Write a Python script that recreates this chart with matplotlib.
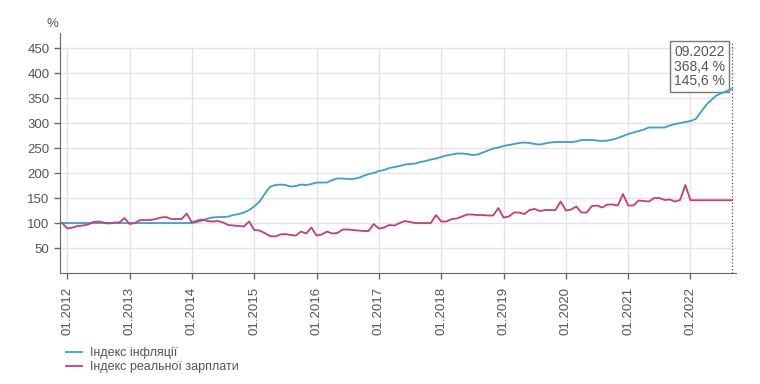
import matplotlib.pyplot as plt
import numpy as np

plt.rcParams['font.family'] = ['Liberation Sans', 'DejaVu Sans']

# місяці: від 12.2011 до 09.2022
start_year = 2011
start_month = 12

inflation = [100,
             100, 100, 100, 100, 100, 100, 100, 100, 100, 100, 100, 100,
             100, 100, 100, 100, 100, 100, 100, 100, 100, 100, 100, 100,
             100, 102, 105, 109, 111, 112, 112, 113, 116, 118, 121, 126,
             133, 143, 158, 172, 176, 177, 176, 173, 174, 177, 176, 178,
             181, 181, 181, 186, 189, 189, 188, 188, 190, 194, 198, 200,
             204, 206, 210, 212, 214, 217, 218, 219, 222, 224, 227, 229,
             232, 235, 237, 239, 239, 238, 236, 237, 241, 245, 249, 251,
             254, 256, 258, 260, 261, 260, 258, 257, 259, 261, 262, 262,
             262, 262, 263, 266, 266, 266, 265, 264, 265, 267, 270, 274,
             278, 281, 284, 287, 291, 291, 291, 291, 295, 298, 300, 302,
             304, 308, 322, 336, 346, 355, 360, 364, 368.4]

real_wage = [100,
             89, 91, 94, 95, 97, 102, 103, 101, 99, 101, 101, 110,
             98, 100, 106, 106, 106, 108, 111, 112, 108, 108, 108, 119,
             101, 105, 107, 104, 103, 104, 101, 96, 95, 94, 93, 103,
             86, 85, 80, 74, 73, 77, 78, 76, 75, 83, 79, 91,
             75, 77, 83, 79, 80, 87, 87, 86, 85, 84, 84, 98,
             89, 91, 96, 95, 100, 104, 102, 100, 100, 100, 100, 116,
             103, 103, 108, 109, 113, 117, 117, 116, 116, 115, 115, 130,
             111, 113, 121, 121, 118, 126, 128, 124, 126, 126, 126, 143,
             125, 127, 133, 121, 121, 134, 135, 131, 137, 137, 135, 158,
             135, 135, 145, 144, 143, 150, 150, 146, 147, 143, 146, 176,
             145.6, 145.6, 145.6, 145.6, 145.6, 145.6, 145.6, 145.6, 145.6]

labels = ['Індекс інфляції', 'Індекс реальної зарплати']
colors = ['#3d9dd3', '#c93c74']


def month_label(k):
    # k = 0 -> 12.2011
    m = start_month - 1 + k
    return '%02d.%d' % (m % 12 + 1, start_year + m // 12)


def main():
    x = np.arange(len(inflation)) - 1  # 0 = 01.2012
    fig = plt.figure(figsize=(7.6, 3.84), dpi=100)
    ax = fig.add_axes([0.079, 0.289, 0.889, 0.625])

    ax.plot(x, inflation, color=colors[0], lw=1.3, label=labels[0], zorder=3)
    ax.plot(x, real_wage, color=colors[1], lw=1.3, label=labels[1], zorder=3)

    ax.set_xlim(-1.4, x[-1] + 0.7)
    ax.set_ylim(0, 480)
    ax.set_yticks(range(50, 451, 50))
    xt = list(range(0, x[-1], 12))
    ax.set_xticks(xt)
    ax.set_xticklabels([month_label(i + 1) for i in xt], rotation=90)
    ax.tick_params(axis='both', colors='#666666', labelcolor='#555555', labelsize=9.5, length=4, width=1)
    ax.tick_params(axis='x', labelsize=9.5, pad=6)

    # сітка до рівня 450
    ax.grid(True, axis='y', color='#e4e4e8', lw=1)
    ax.vlines(xt, 0, 450, color='#e4e4e8', lw=1, zorder=1)
    ax.set_axisbelow(True)
    for s in ['top', 'right']:
        ax.spines[s].set_visible(False)
    ax.spines['left'].set_color('#666666')
    ax.spines['bottom'].set_color('#666666')

    fig.text(0.069, 0.93, '%', color='#555555', fontsize=9.5, ha='center')

    # підказка для останнього місяця
    ax.plot([x[-1], x[-1]], [0, 462], color='#555555', lw=0.9, ls=':', zorder=4)
    tip = '%s\n%s %%\n%s %%' % (month_label(len(inflation) - 1),
                                ('%.1f' % inflation[-1]).replace('.', ','),
                                ('%.1f' % real_wage[-1]).replace('.', ','))
    ax.annotate(tip, xy=(x[-1], inflation[-1]), xytext=(-5, 0.5), textcoords='offset points',
                ha='right', va='bottom', multialignment='right', fontsize=10, color='#555555',
                linespacing=1.05,
                bbox=dict(boxstyle='square,pad=0.3', fc='white', ec='#777777', lw=1), zorder=2)

    fig.legend(loc='upper left', bbox_to_anchor=(0.072, 0.125), frameon=False, fontsize=9,
               handlelength=1.3, handletextpad=0.6, labelspacing=0.15, labelcolor='#555555')

    plt.savefig('out.png', dpi=100)


if __name__ == '__main__':
    main()
